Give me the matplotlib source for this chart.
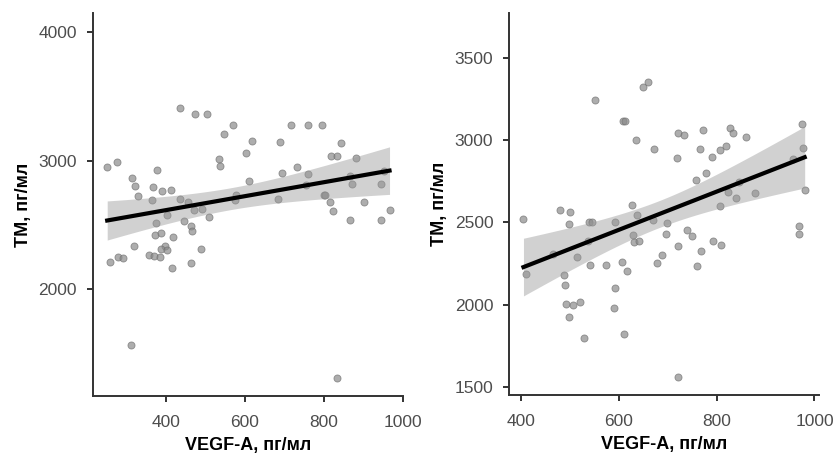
import numpy as np
import matplotlib.pyplot as plt

plt.rcParams['font.family'] = ['Liberation Sans', 'DejaVu Sans']

# left panel: VEGF-A vs TM
vegf_left = [252, 278, 314, 323, 330, 378, 367, 365, 390, 413, 403, 376, 436, 473, 504,
             436, 457, 471, 492, 445, 463, 467, 509, 536, 537, 547, 570, 604, 617, 610,
             579, 576, 689, 693, 683, 716, 733, 760, 761, 795, 844, 819, 834, 880, 872,
             800, 804, 815, 822, 901, 865, 945, 951, 945, 966, 372, 389, 418, 319, 399,
             388, 403, 489, 258, 279, 292, 358, 370, 386, 464, 415, 312, 834, 867, 756]
tm_left = [2951, 2990, 2866, 2806, 2728, 2928, 2795, 2695, 2767, 2772, 2578, 2518, 3409, 3365, 3365,
           2705, 2676, 2617, 2625, 2531, 2489, 2454, 2559, 3015, 2956, 3207, 3274, 3060, 3153, 2845,
           2733, 2695, 3148, 2904, 2699, 3274, 2951, 3274, 2894, 3280, 3140, 3034, 3034, 3021, 2819,
           2733, 2733, 2676, 2609, 2679, 2542, 2816, 2922, 2539, 2619, 2420, 2435, 2407, 2340, 2340,
           2314, 2309, 2311, 2213, 2249, 2244, 2264, 2262, 2249, 2205, 2166, 1565, 1308, 2883, 2811]

# right panel
vegf_right = [405, 479, 500, 498, 551, 538, 545, 592, 608, 612, 626, 635, 637, 649, 659,
              672, 669, 699, 720, 734, 719, 740, 758, 773, 766, 779, 791, 807, 820, 828,
              834, 861, 824, 839, 846, 806, 878, 975, 976, 980, 968, 968, 956, 411, 487,
              490, 491, 507, 521, 498, 529, 515, 541, 573, 536, 591, 593, 607, 616, 610,
              628, 631, 641, 678, 688, 697, 722, 750, 768, 759, 792, 809, 720, 465]
tm_right = [2519, 2578, 2563, 2493, 3244, 2505, 2505, 2505, 3118, 3118, 2604, 3002, 2547, 3325, 3357,
            2945, 2517, 2496, 3045, 3033, 2892, 2456, 2761, 3065, 2945, 2801, 2901, 2939, 2968, 3077,
            3047, 3018, 2683, 2647, 2744, 2600, 2679, 3097, 2953, 2697, 2478, 2427, 2888, 2186, 2182,
            2121, 2001, 1995, 2015, 1926, 1794, 2287, 2243, 2243, 2384, 1979, 2099, 2261, 2202, 1818,
            2421, 2381, 2387, 2255, 2304, 2429, 2354, 2415, 2324, 2233, 2385, 2362, 1559, 2307]

left_yticks = [2000, 3000, 4000]
right_yticks = [1500, 2000, 2500, 3000, 3500]
xticks = [400, 600, 800, 1000]


def lm_band(x, y, t=1.99):
    # linear fit with 95% confidence band for the mean
    x = np.asarray(x, float)
    y = np.asarray(y, float)
    b, a = np.polyfit(x, y, 1)
    resid = y - (a + b * x)
    n = len(x)
    s = np.sqrt(np.sum(resid ** 2) / (n - 2))
    xs = np.linspace(x.min(), x.max(), 100)
    fit = a + b * xs
    se = s * np.sqrt(1 / n + (xs - x.mean()) ** 2 / np.sum((x - x.mean()) ** 2))
    return xs, fit, fit - t * se, fit + t * se


def draw_panel(ax, x, y, xlim, ylim, yticks):
    ax.scatter(x, y, s=26, facecolor='#8a8a8a', edgecolor='#6e6e6e',
               linewidth=0.6, alpha=0.7, zorder=2)
    xs, fit, lo, hi = lm_band(x, y)
    ax.fill_between(xs, lo, hi, color='#9a9a9a', alpha=0.45, linewidth=0, zorder=3)
    ax.plot(xs, fit, color='black', linewidth=3, zorder=4)

    ax.set_xlim(*xlim)
    ax.set_ylim(*ylim)
    ax.set_xticks(xticks)
    ax.set_yticks(yticks)
    ax.spines[['top', 'right']].set_visible(False)
    ax.spines[['left', 'bottom']].set_color('#333333')
    ax.spines[['left', 'bottom']].set_linewidth(1.4)
    ax.tick_params(colors='#333333', labelcolor='#4d4d4d', labelsize=12.5,
                   length=4.5, width=1.4)
    ax.tick_params(axis='x', pad=9)
    ax.tick_params(axis='y', pad=7)
    ax.set_xlabel('VEGF-A, пг/мл', fontsize=13, fontweight='bold', labelpad=5)
    ax.set_ylabel('ТМ, пг/мл', fontsize=13, fontweight='bold', labelpad=5)


fig = plt.figure(figsize=(8.39, 4.55), dpi=100)
ax1 = fig.add_axes([0.1108, 0.1297, 0.3695, 0.8418])
ax2 = fig.add_axes([0.6070, 0.1319, 0.3690, 0.8396])

draw_panel(ax1, vegf_left, tm_left, (216, 1000), (1171, 4148), left_yticks)
draw_panel(ax2, vegf_right, tm_right, (376, 1009), (1449, 3776), right_yticks)

fig.savefig('out.png', dpi=100, facecolor='white')
